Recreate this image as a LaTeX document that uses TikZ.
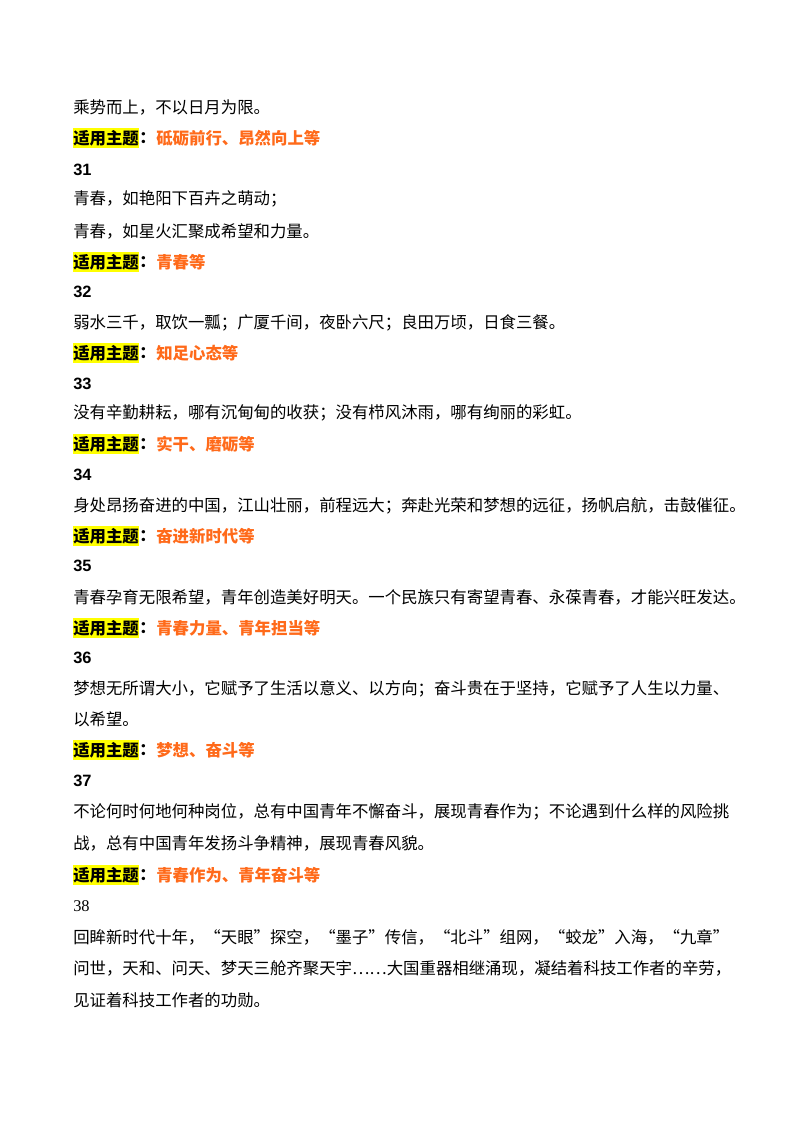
\documentclass[tikz,border=0pt]{standalone}
\usepackage{fontspec}
\setmainfont{Noto Sans CJK SC}
\newfontfamily\numfont{Liberation Serif}
\newfontfamily\numbold{Liberation Sans}
\definecolor{topic}{HTML}{FF6A1A}
\definecolor{hly}{HTML}{FFFF00}
\begin{document}
\begin{tikzpicture}[x=0.75pt,y=-0.75pt,
  t/.style={anchor=west,inner sep=0pt,font=\fontsize{12.3}{14}\selectfont},
  n/.style={t,font=\fontsize{12.3}{14}\selectfont\numbold\bfseries},
  hl/.style={t,font=\fontsize{12.3}{14}\selectfont\bfseries,fill=hly,inner ysep=1.5pt},
  cl/.style={t,font=\fontsize{12.3}{14}\selectfont\bfseries},
  tp/.style={t,font=\fontsize{12.3}{14}\selectfont\bfseries,text=topic}]
\useasboundingbox (0,0) rectangle (800,1132);
\node[t] (l1) at (73,107) {乘势而上，不以日月为限。};
\node[hl] (h30) at (73,138) {适用主题}; \node[cl] (c30) at (h30.east) {：}; \node[tp] (p30) at (c30.east) {砥砺前行、昂然向上等};
\node[n] (n31) at (73,170) {31};
\node[t] (a31) at (73,199) {青春，如艳阳下百卉之萌动；};
\node[t] (b31) at (73,231) {青春，如星火汇聚成希望和力量。};
\node[hl] (h31) at (73,262) {适用主题}; \node[cl] (c31) at (h31.east) {：}; \node[tp] (p31) at (c31.east) {青春等};
\node[n] (n32) at (73,292) {32};
\node[t] (a32) at (73,323) {弱水三千，取饮一瓢；广厦千间，夜卧六尺；良田万顷，日食三餐。};
\node[hl] (h32) at (73,353) {适用主题}; \node[cl] (c32) at (h32.east) {：}; \node[tp] (p32) at (c32.east) {知足心态等};
\node[n] (n33) at (73,384) {33};
\node[t] (a33) at (73,413) {没有辛勤耕耘，哪有沉甸甸的收获；没有栉风沐雨，哪有绚丽的彩虹。};
\node[hl] (h33) at (73,444) {适用主题}; \node[cl] (c33) at (h33.east) {：}; \node[tp] (p33) at (c33.east) {实干、磨砺等};
\node[n] (n34) at (73,475) {34};
\node[t] (a34) at (73,506) {身处昂扬奋进的中国，江山壮丽，前程远大；奔赴光荣和梦想的远征，扬帆启航，击鼓催征。};
\node[hl] (h34) at (73,536) {适用主题}; \node[cl] (c34) at (h34.east) {：}; \node[tp] (p34) at (c34.east) {奋进新时代等};
\node[n] (n35) at (73,566) {35};
\node[t] (a35) at (73,597) {青春孕育无限希望，青年创造美好明天。一个民族只有寄望青春、永葆青春，才能兴旺发达。};
\node[hl] (h35) at (73,628) {适用主题}; \node[cl] (c35) at (h35.east) {：}; \node[tp] (p35) at (c35.east) {青春力量、青年担当等};
\node[n] (n36) at (73,658) {36};
\node[t] (a36) at (73,689) {梦想无所谓大小，它赋予了生活以意义、以方向；奋斗贵在于坚持，它赋予了人生以力量、};
\node[t] (b36) at (73,719) {以希望。};
\node[hl] (h36) at (73,750) {适用主题}; \node[cl] (c36) at (h36.east) {：}; \node[tp] (p36) at (c36.east) {梦想、奋斗等};
\node[n] (n37) at (73,781) {37};
\node[t] (a37) at (73,812) {不论何时何地何种岗位，总有中国青年不懈奋斗，展现青春作为；不论遇到什么样的风险挑};
\node[t] (b37) at (73,843) {战，总有中国青年发扬斗争精神，展现青春风貌。};
\node[hl] (h37) at (73,875) {适用主题}; \node[cl] (c37) at (h37.east) {：}; \node[tp] (p37) at (c37.east) {青春作为、青年奋斗等};
\node[t,font=\fontsize{12.3}{14}\selectfont\numfont] (n38) at (73,906) {38};
\node[t] (a38) at (73,937) {回眸新时代十年，“天眼”探空，“墨子”传信，“北斗”组网，“蛟龙”入海，“九章”};
\node[t] (b38) at (73,968) {问世，天和、问天、梦天三舱齐聚天宇……大国重器相继涌现，凝结着科技工作者的辛劳，};
\node[t] (c38) at (73,1000) {见证着科技工作者的功勋。};
\end{tikzpicture}
\end{document}
